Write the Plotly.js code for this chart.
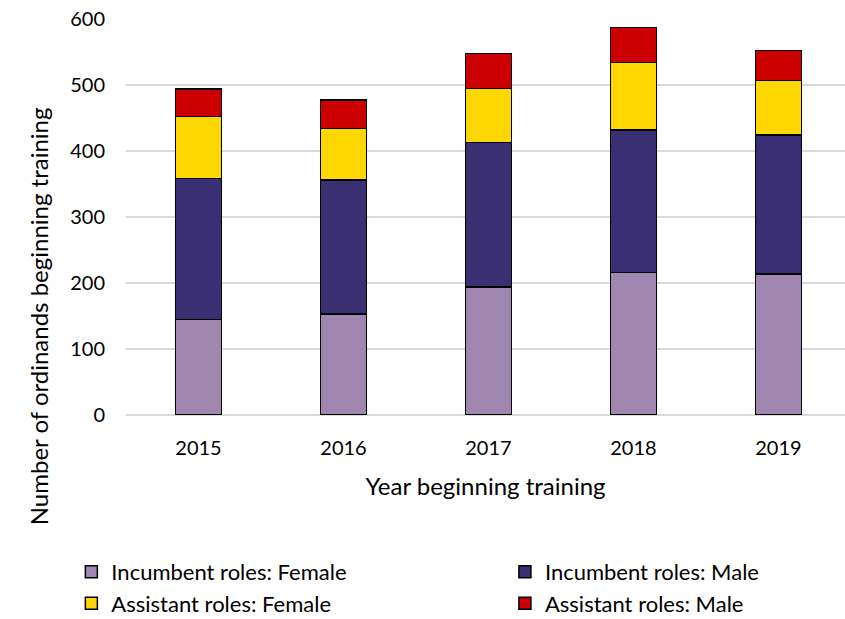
<!DOCTYPE html>
<html>
<head>
<meta charset="utf-8">
<script src="https://cdn.plot.ly/plotly-3.0.1.min.js"></script>
<style>html,body{margin:0;padding:0;background:#fff;}#chart{width:845px;height:619px;}</style>
</head>
<body>
<div id="chart"></div>
<script>
var years = ['2015', '2016', '2017', '2018', '2019'];
var incumbentFemale = [145, 153, 194, 216, 214];
var incumbentMale = [213, 203, 219, 216, 210];
var assistantFemale = [94, 78, 82, 102, 83];
var assistantMale = [42, 43, 53, 53, 45];
var yTicks = [0, 100, 200, 300, 400, 500, 600];

var FONT = 'Lato, "Open Sans", sans-serif';
function mk(name, vals, color, legend) {
  return {
    type: 'bar', name: name, x: years, y: vals, legend: legend,
    marker: {color: color, line: {color: '#000000', width: 1.5}},
    width: 0.317, hoverinfo: 'name+y'
  };
}
var data = [
  mk('Incumbent roles: Female', incumbentFemale, '#A087B1', 'legend'),
  mk('Incumbent roles: Male', incumbentMale, '#3A2F73', 'legend2'),
  mk('Assistant roles: Female', assistantFemale, '#FFD700', 'legend'),
  mk('Assistant roles: Male', assistantMale, '#CC0000', 'legend2')
];
var legFont = {family: FONT, size: 22, color: '#000'};
var layout = {
  width: 845, height: 619,
  margin: {l: 126, r: 0, t: 19, b: 204},
  paper_bgcolor: '#ffffff', plot_bgcolor: '#ffffff',
  barmode: 'stack',
  font: {family: FONT, size: 20, color: '#000000'},
  xaxis: {
    type: 'category', range: [-0.5, 4.459],
    showgrid: false, showline: false, ticks: '', ticklabelstandoff: 19,
    tickfont: {family: FONT, size: 20, color: '#000'},
    title: {text: 'Year beginning training', font: {family: FONT, size: 24, color: '#000'}, standoff: 20}
  },
  yaxis: {
    range: [0, 600], tickvals: yTicks, ticktext: yTicks.map(String),
    showgrid: true, gridcolor: '#D9D9D9', gridwidth: 1.5,
    zeroline: true, zerolinecolor: '#D9D9D9', zerolinewidth: 1.5,
    showline: false, ticks: '', ticklabelstandoff: 20,
    tickfont: {family: FONT, size: 20, color: '#000'}
  },
  showlegend: true,
  legend: {
    orientation: 'v', xref: 'paper', x: -0.076, xanchor: 'left',
    yref: 'container', y: 0.1099, yanchor: 'top',
    traceorder: 'normal', font: legFont, bgcolor: 'rgba(0,0,0,0)'
  },
  legend2: {
    orientation: 'v', xref: 'paper', x: 0.527, xanchor: 'left',
    yref: 'container', y: 0.1099, yanchor: 'top',
    traceorder: 'normal', font: legFont, bgcolor: 'rgba(0,0,0,0)'
  },
  annotations: [{
    text: 'Number of ordinands beginning training', textangle: -90,
    xref: 'paper', yref: 'paper', x: -0.122, y: 0.25,
    xanchor: 'center', yanchor: 'middle', showarrow: false,
    font: {family: FONT, size: 24, color: '#000'}
  }]
};
Plotly.newPlot('chart', data, layout, {displayModeBar: false, staticPlot: true});
</script>
</body>
</html>
